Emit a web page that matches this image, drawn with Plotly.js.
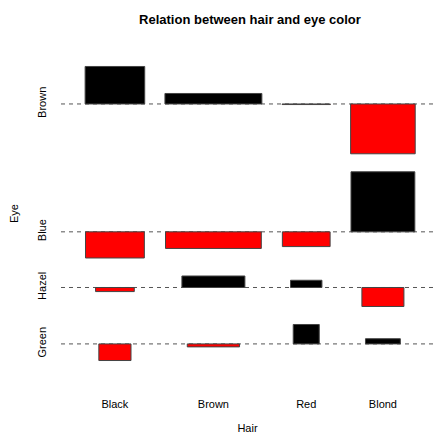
<!DOCTYPE html>
<html>
<head>
<meta charset="utf-8">
<script src="https://cdn.plot.ly/plotly-3.0.1.min.js"></script>
<style>html,body{margin:0;padding:0;background:#fff;}#chart{width:434px;height:434px;}</style>
</head>
<body>
<div id="chart"></div>
<script>
// Hair colours (x categories) and eye colours (y categories, top to bottom)
const hair = ["Black", "Brown", "Red", "Blond"];
const eye = ["Brown", "Blue", "Hazel", "Green"];

// Pearson residuals (bar heights), one array per eye colour, ordered by hair
const residBrown = [4.40, 1.23, -0.07, -5.85];
const residBlue  = [-3.07, -1.95, -1.73, 7.05];
const residHazel = [-0.48, 1.35, 0.85, -2.23];
const residGreen = [-1.95, -0.35, 2.28, 0.61];

// sqrt(expected counts) (bar widths), one array per eye colour, ordered by hair
const widthBrown = [6.34, 10.31, 5.14, 6.87];
const widthBlue  = [6.26, 10.19, 5.08, 6.79];
const widthHazel = [4.12, 6.70, 3.34, 4.47];
const widthGreen = [3.42, 5.56, 2.77, 3.71];

const resid = [residBrown, residBlue, residHazel, residGreen];
const widths = [widthBrown, widthBlue, widthHazel, widthGreen];

// assocplot layout (as in R's assocplot, space = 0.3)
const space = 0.3;
const nH = hair.length, nE = eye.length;
const xw = hair.map((_, i) => Math.max(...widths.map(r => r[i])));
const xDelta = xw.reduce((a, b) => a + b, 0) / nH * space;
const xm = [];
let acc = 0;
for (let i = 0; i < nH; i++) { const prev = acc; acc += xw[i] + xDelta; xm.push((prev + acc) / 2); }
const yh = resid.map(r => Math.max(0, ...r));
const yd = resid.map(r => Math.min(0, ...r));
const yDelta = yh.reduce((s, v, j) => s + v - yd[j], 0) / nE * space;
// stack from bottom (last eye) to top (first eye)
const ym = new Array(nE);
let yacc = 0;
for (let j = nE - 1; j >= 0; j--) { yacc += yh[j] - yd[j] + yDelta; ym[j] = yacc - yh[j] - yDelta / 2; }
const yTop = yacc;
const xTotal = acc;

const bx = [], by = [], bb = [], bw = [], bc = [], bt = [];
for (let j = 0; j < nE; j++) {
  for (let i = 0; i < nH; i++) {
    bx.push(xm[i]); by.push(resid[j][i]); bb.push(ym[j]); bw.push(widths[j][i]);
    bc.push(resid[j][i] < 0 ? "#ff0000" : "#000000");
    bt.push(hair[i] + " / " + eye[j] + ": " + resid[j][i]);
  }
}

const trace = {
  type: "bar", x: bx, y: by, base: bb, width: bw,
  marker: { color: bc, line: { color: "#444444", width: 1 } },
  text: bt, hoverinfo: "text", textposition: "none"
};

const xPad = xTotal * 0.04, yPad = yTop * 0.04;
// the reference image is cropped on the right, slightly inside the padded plot box
const xRight = xTotal + xPad * 0.62;
const shapes = ym.map(v => ({
  type: "line", xref: "paper", x0: 0, x1: 1, yref: "y", y0: v, y1: v,
  line: { color: "#555555", width: 1, dash: "4px,4px" }, layer: "below"
}));

const layout = {
  width: 434, height: 434,
  margin: { l: 61, r: 0, t: 45, b: 52 },
  paper_bgcolor: "#ffffff", plot_bgcolor: "#ffffff",
  font: { family: "Liberation Sans, Arial, sans-serif", size: 11, color: "#000" },
  title: { text: "<b>Relation between hair and eye color</b>", font: { size: 13, color: "#000" },
           xref: "container", x: 0.576, xanchor: "center", yref: "container", y: 0.956, yanchor: "middle" },
  showlegend: false,
  bargap: 0,
  xaxis: {
    range: [-xPad, xRight], tickmode: "array", tickvals: xm, ticktext: hair,
    showgrid: false, zeroline: false, showline: false,
    ticks: "outside", ticklen: 12, tickcolor: "rgba(0,0,0,0)",
    title: { text: "Hair", font: { size: 11 }, standoff: 20 }
  },
  yaxis: {
    range: [-yPad, yTop + yPad], tickmode: "array", tickvals: ym, ticktext: eye,
    tickangle: -90, showgrid: false, zeroline: false, showline: false,
    ticks: "outside", ticklen: 10, tickcolor: "rgba(0,0,0,0)",
    title: { text: "Eye", font: { size: 11 }, standoff: 14 }
  },
  shapes: shapes
};

Plotly.newPlot("chart", [trace], layout, { displayModeBar: false, staticPlot: true });
</script>
</body>
</html>
